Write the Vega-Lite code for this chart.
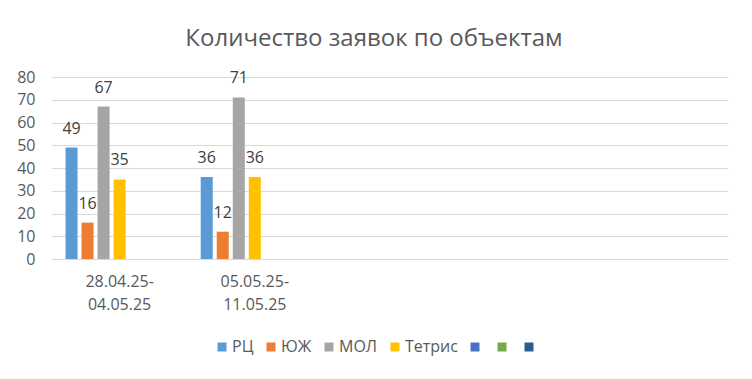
{
  "$schema": "https://vega.github.io/schema/vega-lite/v6.json",
  "width": 676,
  "height": 182,
  "autosize": {"type": "none"},
  "padding": {"left": 52, "top": 77, "right": 24, "bottom": 120},
  "background": "white",
  "config": {
    "view": {"stroke": null},
    "font": "Open Sans"
  },
  "title": {
    "text": "Количество заявок по объектам",
    "font": "Open Sans",
    "fontSize": 24,
    "fontWeight": "normal",
    "color": "#595959",
    "anchor": "middle",
    "dx": -16,
    "offset": 18
  },
  "data": {
    "values": [
      {"week": "28.04.25-04.05.25", "series": "РЦ", "value": 49},
      {"week": "28.04.25-04.05.25", "series": "ЮЖ", "value": 16},
      {"week": "28.04.25-04.05.25", "series": "МОЛ", "value": 67},
      {"week": "28.04.25-04.05.25", "series": "Тетрис", "value": 35},
      {"week": "05.05.25-11.05.25", "series": "РЦ", "value": 36},
      {"week": "05.05.25-11.05.25", "series": "ЮЖ", "value": 12},
      {"week": "05.05.25-11.05.25", "series": "МОЛ", "value": 71},
      {"week": "05.05.25-11.05.25", "series": "Тетрис", "value": 36}
    ]
  },
  "encoding": {
    "x": {
      "field": "week",
      "type": "nominal",
      "sort": null,
      "scale": {
        "domain": ["28.04.25-04.05.25", "05.05.25-11.05.25", "п3", "п4", "п5"],
        "paddingInner": 0.2,
        "paddingOuter": 0.1
      },
      "axis": {
        "title": null,
        "labelAngle": 0,
        "labelExpr": "length(datum.value) > 5 ? [slice(datum.value, 0, 9), slice(datum.value, 9)] : ''",
        "labelFont": "Open Sans",
        "labelFontSize": 16,
        "labelColor": "#595959",
        "labelLineHeight": 23,
        "labelPadding": 14,
        "ticks": false,
        "domainColor": "#D9D9D9",
        "domainWidth": 1
      }
    },
    "xOffset": {
      "field": "series",
      "type": "nominal",
      "scale": {
        "domain": ["РЦ", "ЮЖ", "МОЛ", "Тетрис", "Ряд5", "Ряд6", "Ряд7"],
        "paddingInner": 0.25,
        "paddingOuter": 0
      }
    },
    "y": {
      "field": "value",
      "type": "quantitative",
      "scale": {"domain": [0, 80], "nice": false},
      "axis": {
        "title": null,
        "values": [0, 10, 20, 30, 40, 50, 60, 70, 80],
        "domain": false,
        "ticks": false,
        "gridColor": "#D9D9D9",
        "gridWidth": 1,
        "labelFont": "Open Sans",
        "labelFontSize": 16,
        "labelColor": "#595959",
        "labelPadding": 17
      }
    }
  },
  "layer": [
    {
      "mark": {"type": "bar"},
      "encoding": {
        "color": {
          "field": "series",
          "type": "nominal",
          "scale": {
            "domain": ["РЦ", "ЮЖ", "МОЛ", "Тетрис", "Ряд5", "Ряд6", "Ряд7"],
            "range": ["#5B9BD5", "#ED7D31", "#A5A5A5", "#FFC000", "#4472C4", "#70AD47", "#255E91"]
          },
          "legend": {
            "title": null,
            "orient": "none",
            "legendX": 162,
            "legendY": 262,
            "direction": "horizontal",
            "symbolType": "square",
            "symbolSize": 81,
            "symbolStrokeWidth": 0,
            "labelFont": "Open Sans",
            "labelFontSize": 16,
            "labelColor": "#595959",
            "labelOffset": 2,
            "columnPadding": 9,
            "labelExpr": "indexof(datum.label, 'Ряд') == 0 ? '' : datum.label"
          }
        }
      }
    },
    {
      "mark": {
        "type": "text",
        "baseline": "alphabetic",
        "dy": -14,
        "font": "Open Sans",
        "fontSize": 16,
        "color": "#404040"
      },
      "encoding": {
        "text": {"field": "value", "type": "quantitative"}
      }
    }
  ]
}
